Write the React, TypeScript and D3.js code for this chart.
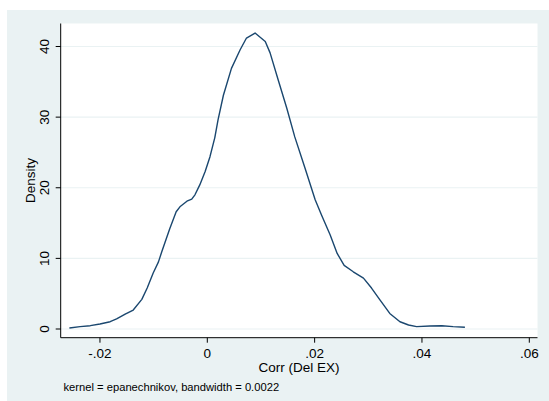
import React from "react";
import * as d3 from "d3";

// Kernel density estimate of Corr (Del EX)
const corrValues: number[] = [
  -0.0257, -0.0237, -0.0218, -0.02, -0.0181, -0.0169, -0.0153, -0.0138, -0.0122, -0.0112,
  -0.0101, -0.0091, -0.0085, -0.007, -0.0058, -0.0051, -0.0038, -0.0029, -0.0023, -0.0014,
  -0.0004, 0.0005, 0.0014, 0.002, 0.003, 0.0045, 0.0061, 0.0073, 0.0089, 0.0108,
  0.0117, 0.0132, 0.0148, 0.0163, 0.0182, 0.0201, 0.0213, 0.0229, 0.0242, 0.0255,
  0.0272, 0.0291, 0.0306, 0.0322, 0.034, 0.0359, 0.0375, 0.039, 0.0415, 0.0437,
  0.0458, 0.048,
];
const densityValues: number[] = [
  0.14, 0.33, 0.47, 0.71, 1.03, 1.42, 2.12, 2.69, 4.2, 5.8,
  7.9, 9.5, 10.9, 14.2, 16.6, 17.3, 18.1, 18.4, 19.0, 20.4,
  22.3, 24.4, 27.1, 29.6, 33.1, 36.9, 39.5, 41.2, 41.9, 40.7,
  39.1, 35.3, 31.3, 27.2, 22.8, 18.3, 16.1, 13.3, 10.7, 9.0,
  8.1, 7.2, 5.8, 4.1, 2.2, 1.03, 0.57, 0.33, 0.42, 0.47,
  0.33, 0.24,
];
const xTicks: number[] = [-0.02, 0, 0.02, 0.04, 0.06];
const xTickLabels: string[] = ["-.02", "0", ".02", ".04", ".06"];
const yTicks: number[] = [0, 10, 20, 30, 40];

const W = 549;
const H = 401;
const plot = { left: 60.7, right: 537.5, top: 23.5, bottom: 337.7 };
const FONT = "'Liberation Sans', Arial, sans-serif";
const BG = "#eaf2f3";
const LINE = "#1a476f";

export default function App() {
  const x = d3.scaleLinear().domain([0, 0.06]).range([207.3, 529.3]);
  const y = d3.scaleLinear().domain([0, 40]).range([329, 46.5]);

  const pts: [number, number][] = corrValues.map((v, i) => [v, densityValues[i]]);
  const path = d3
    .line<[number, number]>()
    .x((d) => x(d[0]))
    .y((d) => y(d[1]))
    .curve(d3.curveLinear)(pts);

  return (
    <svg
      width={W}
      height={H}
      style={{ position: "absolute", left: 0, top: 0, fontFamily: FONT }}
    >
      <rect x={0} y={0} width={W} height={H} fill="#ffffff" />
      <rect x={7} y={10} width={W - 7} height={H - 10} fill={BG} />
      <rect
        x={plot.left}
        y={plot.top}
        width={plot.right - plot.left}
        height={plot.bottom - plot.top}
        fill="#ffffff"
      />
      {yTicks.map((t) => (
        <line
          key={"g" + t}
          x1={plot.left}
          x2={plot.right}
          y1={y(t)}
          y2={y(t)}
          stroke={BG}
          strokeWidth={1.2}
        />
      ))}
      <path d={path ?? ""} fill="none" stroke={LINE} strokeWidth={1.4} strokeLinejoin="round" />
      {/* axes */}
      <line x1={plot.left} x2={plot.left} y1={plot.top} y2={plot.bottom} stroke="#000" strokeWidth={1} />
      <line x1={plot.left} x2={plot.right} y1={plot.bottom} y2={plot.bottom} stroke="#000" strokeWidth={1} />
      {yTicks.map((t) => (
        <g key={"y" + t}>
          <line x1={plot.left - 5} x2={plot.left} y1={y(t)} y2={y(t)} stroke="#000" strokeWidth={1} />
          <text
            transform={`translate(49,${y(t)}) rotate(-90)`}
            textAnchor="middle"
            fontSize={13.5}
            fill="#000"
          >
            {t}
          </text>
        </g>
      ))}
      {xTicks.map((t, i) => (
        <g key={"x" + t}>
          <line x1={x(t)} x2={x(t)} y1={plot.bottom} y2={plot.bottom + 5} stroke="#000" strokeWidth={1} />
          <text x={x(t)} y={358} textAnchor="middle" fontSize={13.5} fill="#000">
            {xTickLabels[i]}
          </text>
        </g>
      ))}
      <text
        transform={`translate(35,${(plot.top + plot.bottom) / 2}) rotate(-90)`}
        textAnchor="middle"
        fontSize={13.5}
        fill="#000"
      >
        Density
      </text>
      <text x={(plot.left + plot.right) / 2} y={372} textAnchor="middle" fontSize={13.5} fill="#000">
        Corr (Del EX)
      </text>
      <text x={63.5} y={391} fontSize={11.2} fill="#000">
        kernel = epanechnikov, bandwidth = 0.0022
      </text>
    </svg>
  );
}
